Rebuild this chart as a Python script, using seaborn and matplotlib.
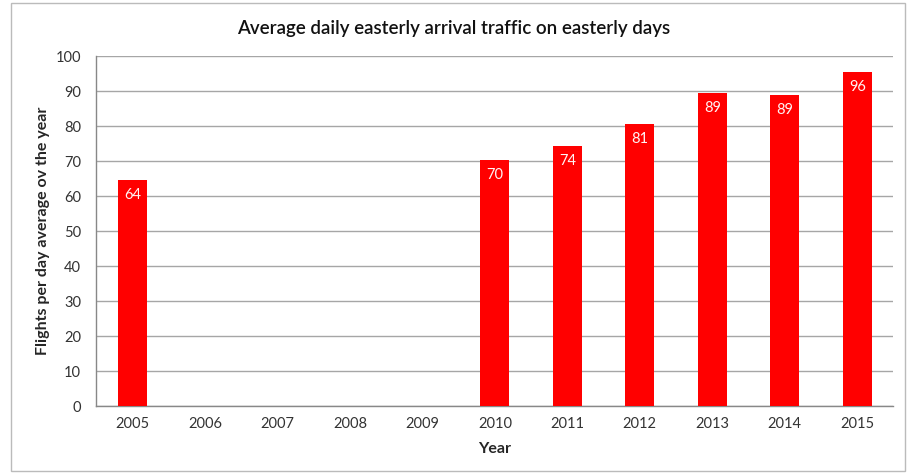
import numpy as np
import pandas as pd
import seaborn as sns
import matplotlib.pyplot as plt
from matplotlib.patches import Rectangle

# Chart data
years = ['2005', '2006', '2007', '2008', '2009', '2010', '2011', '2012', '2013', '2014', '2015']
flights = [64.5, np.nan, np.nan, np.nan, np.nan, 70.3, 74.3, 80.6, 89.4, 88.9, 95.5]
labels = ['64', '', '', '', '', '70', '74', '81', '89', '89', '96']

df = pd.DataFrame({'Year': years, 'Flights': flights})

sns.set_style('white')
plt.rcParams['font.family'] = ['Lato', 'DejaVu Sans']

fig = plt.figure(figsize=(9.08, 4.76), dpi=100)
ax = fig.add_axes([0.106, 0.147, 0.878, 0.735])

sns.barplot(data=df, x='Year', y='Flights', order=years, color='#ff0000',
            width=0.4, saturation=1, linewidth=0, ax=ax, zorder=3)

# value labels inside top of bars
for i, (val, lab) in enumerate(zip(flights, labels)):
    if lab:
        ax.text(i, val - 2.2, lab, ha='center', va='top', color='#fff4f4', fontsize=10.5, zorder=4)

ax.set_ylim(0, 100)
ax.set_xlim(-0.5, len(years) - 0.5)
ax.set_yticks(range(0, 101, 10))
ax.yaxis.grid(True, color='#a6a6a6', linewidth=1, zorder=0)
ax.set_axisbelow(True)

# tick marks between categories like Excel
ax.set_xticks(range(len(years)))
ax.set_xticks(np.arange(-0.5, len(years), 1), minor=True)
ax.tick_params(axis='x', which='major', length=0, labelsize=10.5, colors='#333333', pad=8)
ax.tick_params(axis='x', which='minor', length=5, color='#888888', direction='out')
ax.tick_params(axis='y', length=5, color='#888888', direction='out', labelsize=10.5,
               labelcolor='#333333', pad=6)

for s in ['top', 'right']:
    ax.spines[s].set_visible(False)
for s in ['left', 'bottom']:
    ax.spines[s].set_color('#888888')
    ax.spines[s].set_linewidth(1)

ax.set_xlabel('Year', fontsize=11.5, fontweight='bold', labelpad=8)
ax.set_ylabel('Flights per day average ov the year', fontsize=11.5, fontweight='bold', labelpad=4)
fig.suptitle('Average daily easterly arrival traffic on easterly days', fontsize=13.5,
             fontweight='semibold', y=0.958, color='#111111')

# outer chart frame
fig.patches.append(Rectangle((0.012, 0.01), 0.985, 0.984, transform=fig.transFigure,
                             fill=False, edgecolor='#bbbbbb', linewidth=1))

fig.savefig('out.png', dpi=100)
